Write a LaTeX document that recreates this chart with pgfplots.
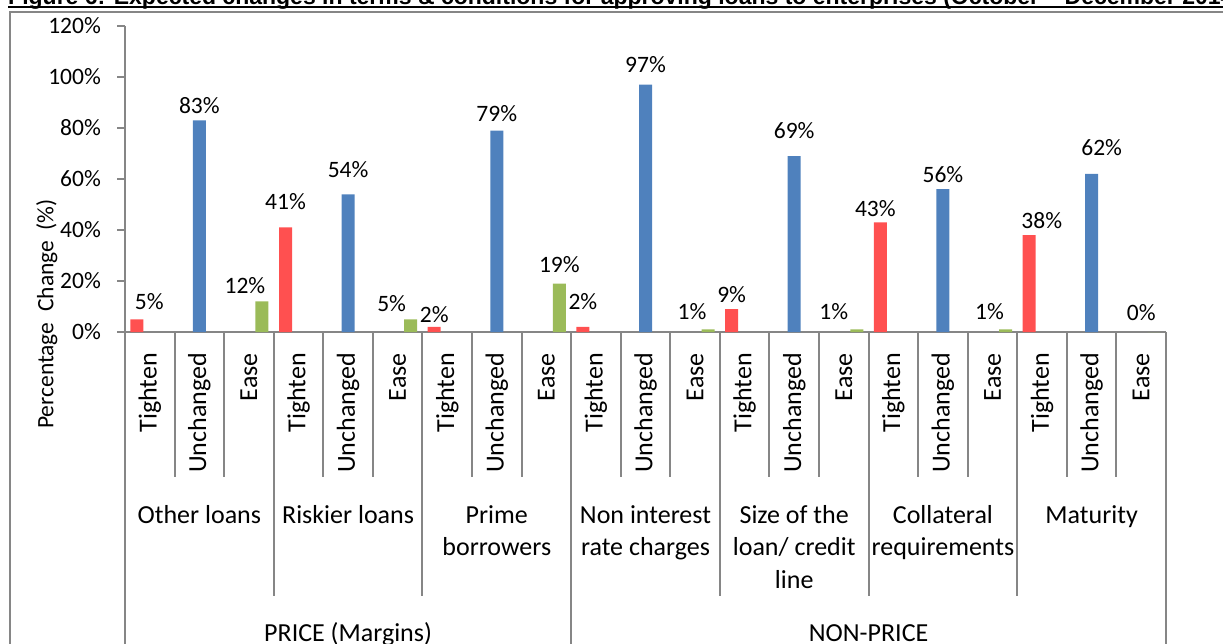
\documentclass[border=0pt]{standalone}
\usepackage{fontspec}
\setmainfont{Carlito}
\newfontfamily\titlefont{Liberation Sans}
\usepackage{pgfplots}
\pgfplotsset{compat=1.18}

\definecolor{tightred}{RGB}{255,80,80}
\definecolor{unchblue}{RGB}{79,129,189}
\definecolor{easegreen}{RGB}{155,187,89}
\definecolor{framegray}{RGB}{134,134,134}

\newcommand\catfont{\fontsize{26}{32.5}\selectfont}
\newcommand\numfont{\fontsize{23.5}{28}\selectfont}

\begin{document}
\begin{tikzpicture}[x=1pt,y=1pt]
\useasboundingbox (0,0) rectangle (1223,-643);
\clip (0,0) rectangle (1223,-643);

% figure caption, underlined
\node[anchor=base west, inner sep=0pt, font=\titlefont\bfseries\fontsize{23}{28}\selectfont]
  at (8,-4.5) {Figure 6: Expected changes in terms \& conditions for approving loans to enterprises (October – December 2014)};
\draw[black, line width=2pt] (8,-6.5) -- (1223,-6.5);

% chart frame
\draw[framegray, line width=2pt] (10,-700) -- (10,-12) -- (1300,-12);

\begin{axis}[
  at={(125pt,-332pt)}, anchor=south west,
  scale only axis, width=1041pt, height=306pt,
  xmin=0, xmax=21, ymin=0, ymax=120,
  axis x line*=bottom, axis y line*=left,
  axis line style={draw=framegray, line width=2pt, -},
  xtick=\empty,
  ytick={0,20,...,120},
  yticklabels={0\%,20\%,40\%,60\%,80\%,100\%,120\%},
  tick align=outside, major tick length=8pt,
  ytick style={draw=framegray, line width=2pt},
  yticklabel style={font=\numfont, inner sep=0pt, xshift=-16pt},
  /pgf/number format/assume math mode=true,
  ybar, bar width=13pt,
  clip=false,
  point meta=\thisrow{y},
  nodes near coords={\pgfmathprintnumber{\pgfplotspointmeta}\%},
  visualization depends on={\thisrow{dx}\as\dx},
  visualization depends on={\thisrow{dy}\as\dy},
  every node near coord/.append style={font=\numfont, text=black, inner sep=0pt,
    anchor=center, xshift=\dx pt, yshift=\dy pt},
]
% Tighten
\addplot[fill=tightred, draw=none, bar shift=-13pt] table {
x    y  dx   dy
0.5  5  12.5 17.6
3.5  41 0    25.5
6.5  2  0    12
9.5  2  0    25.6
12.5 9  0    14
15.5 43 -5   14
18.5 38 12.7 15
};
% Unchanged
\addplot[fill=unchblue, draw=none, bar shift=0pt] table {
x    y  dx   dy
1.5  83 0    14.5
4.5  54 0    25
7.5  79 0    16.7
10.5 97 0    20
13.5 69 0    25.5
16.5 56 0    15
19.5 62 10   26.7
};
% Ease
\addplot[fill=easegreen, draw=none, bar shift=13pt] table {
x    y  dx   dy
2.5  12 -17  15.7
5.5  5  -19  15.3
8.5  19 0    19.3
11.5 1  -16  17.8
14.5 1  -23  17.8
17.5 1  -16  17.8
20.5 0  -13  19.5
};
\end{axis}

% multi-level category axis
\def\cw{49.5714}
\foreach \k in {1,2,4,5,7,8,10,11,13,14,16,17,19,20}
  \draw[framegray, line width=2pt] ({125+\k*\cw},-332) -- ({125+\k*\cw},-477);
\foreach \k in {3,6,12,15,18}
  \draw[framegray, line width=2pt] ({125+\k*\cw},-332) -- ({125+\k*\cw},-596);
\foreach \k in {0,9,21}
  \draw[framegray, line width=2pt] ({125+\k*\cw},-332) -- ({125+\k*\cw},-700);

\foreach \k/\t in {0/Tighten,1/Unchanged,2/Ease,3/Tighten,4/Unchanged,5/Ease,
                   6/Tighten,7/Unchanged,8/Ease,9/Tighten,10/Unchanged,11/Ease,
                   12/Tighten,13/Unchanged,14/Ease,15/Tighten,16/Unchanged,17/Ease,
                   18/Tighten,19/Unchanged,20/Ease}
  \node[rotate=90, anchor=east, inner sep=0pt, font=\catfont]
    at ({125+(\k+0.5)*\cw},-353) {\t};

\foreach \g/\t in {0/{Other loans},1/{Riskier loans},2/{Prime\\borrowers},
                   3/{Non interest\\rate charges},4/{Size of the\\loan/ credit\\line},
                   5/{Collateral\\requirements},6/{Maturity}}
  \node[anchor=north, align=center, inner sep=0pt, font=\catfont]
    at ({125+(3*\g+1.5)*\cw},-505) {\t};

\node[anchor=base, inner sep=0pt, font=\catfont] at ({125+4.5*\cw},-641.5) {PRICE (Margins)};
\node[anchor=base, inner sep=0pt, font=\catfont] at ({125+15*\cw},-641.5) {NON-PRICE};

% value axis title
\node[rotate=90, anchor=base, inner sep=0pt, font=\numfont]
  at (53.3,-314) {Percentage\ \ Change\ \ (\%)};
\end{tikzpicture}
\end{document}
